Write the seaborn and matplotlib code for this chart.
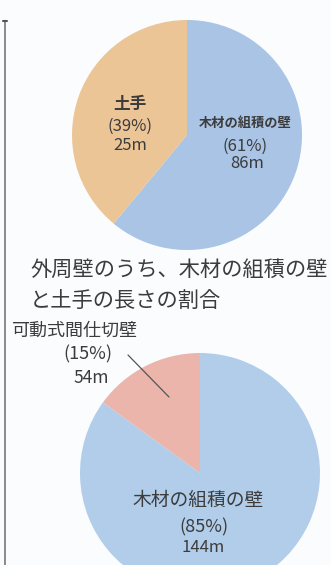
import matplotlib
matplotlib.use("Agg")
import matplotlib.pyplot as plt
import seaborn as sns

sns.set_theme(style="white")
plt.rcParams['font.family'] = ['Noto Sans CJK JP', 'DejaVu Sans']

# data
top_labels = ["木材の組積の壁", "土手"]
top_pct = [61, 39]
top_len = ["86m", "25m"]
top_colors = ["#a9c4e5", "#ecc597"]

bot_labels = ["木材の組積の壁", "可動式間仕切壁"]
bot_pct = [85, 15]
bot_len = ["144m", "54m"]
bot_colors = ["#b1cdea", "#ebb5ab"]

title_lines = ["外周壁のうち、木材の組積の壁", "と土手の長さの割合"]

W, H = 331, 565
fig = plt.figure(figsize=(W / 100, H / 100), dpi=100)
fig.patch.set_facecolor("#fbfcfd")


def pie_ax(cx, cy, r, vals, cols):
    ax = fig.add_axes([(cx - r) / W, (H - cy - r) / H, 2 * r / W, 2 * r / H])
    ax.pie(vals, colors=cols, startangle=90, counterclock=False,
           radius=1, wedgeprops=dict(linewidth=0))
    ax.set_xlim(-1, 1)
    ax.set_ylim(-1, 1)
    ax.set_aspect("equal")
    ax.axis("off")
    for p in ax.patches:
        p.set_clip_on(False)
    return ax


ax1 = pie_ax(187, 135, 115, top_pct, top_colors)
ax2 = pie_ax(200, 473, 120, bot_pct, bot_colors)

# overlay in pixel coordinates
ov = fig.add_axes([0, 0, 1, 1], facecolor="none")
ov.set_xlim(0, W)
ov.set_ylim(H, 0)
ov.axis("off")

tc = "#3c3c3c"
# left border line
ov.plot([4.5, 4.5], [21, H], color="#777777", lw=1.2)
ov.plot([2.5, 6.5], [21, 21], color="#555555", lw=1.5)

# top pie labels
ov.text(130, 104, top_labels[1], ha="center", va="center", fontsize=12, color=tc, fontweight="bold")
ov.text(130, 126, f"({top_pct[1]}%)", ha="center", va="center", fontsize=12, color=tc)
ov.text(130, 146, top_len[1], ha="center", va="center", fontsize=12, color=tc)

ov.text(245, 123, top_labels[0], ha="center", va="center", fontsize=9.5, color=tc, fontweight="bold")
ov.text(245, 146, f"({top_pct[0]}%)", ha="center", va="center", fontsize=12, color=tc)
ov.text(247, 164, top_len[0], ha="center", va="center", fontsize=12, color=tc)

# title
ov.text(30, 270, title_lines[0], ha="left", va="center", fontsize=15.3, color=tc)
ov.text(30, 302, title_lines[1], ha="left", va="center", fontsize=15.3, color=tc)

# bottom pie labels
ov.text(12, 331, bot_labels[1], ha="left", va="center", fontsize=13, color=tc)
ov.text(88, 354, f"({bot_pct[1]}%)", ha="center", va="center", fontsize=13, color=tc)
ov.text(91, 378, bot_len[1], ha="center", va="center", fontsize=12.5, color=tc)
ov.plot([128, 169], [355, 397], color="#555555", lw=0.9)

ov.text(198, 500, bot_labels[0], ha="center", va="center", fontsize=13.5, color=tc)
ov.text(204, 527, f"({bot_pct[0]}%)", ha="center", va="center", fontsize=13, color=tc)
ov.text(203, 547, bot_len[0], ha="center", va="center", fontsize=12, color=tc)

fig.savefig("out.png", dpi=100, facecolor=fig.get_facecolor())
